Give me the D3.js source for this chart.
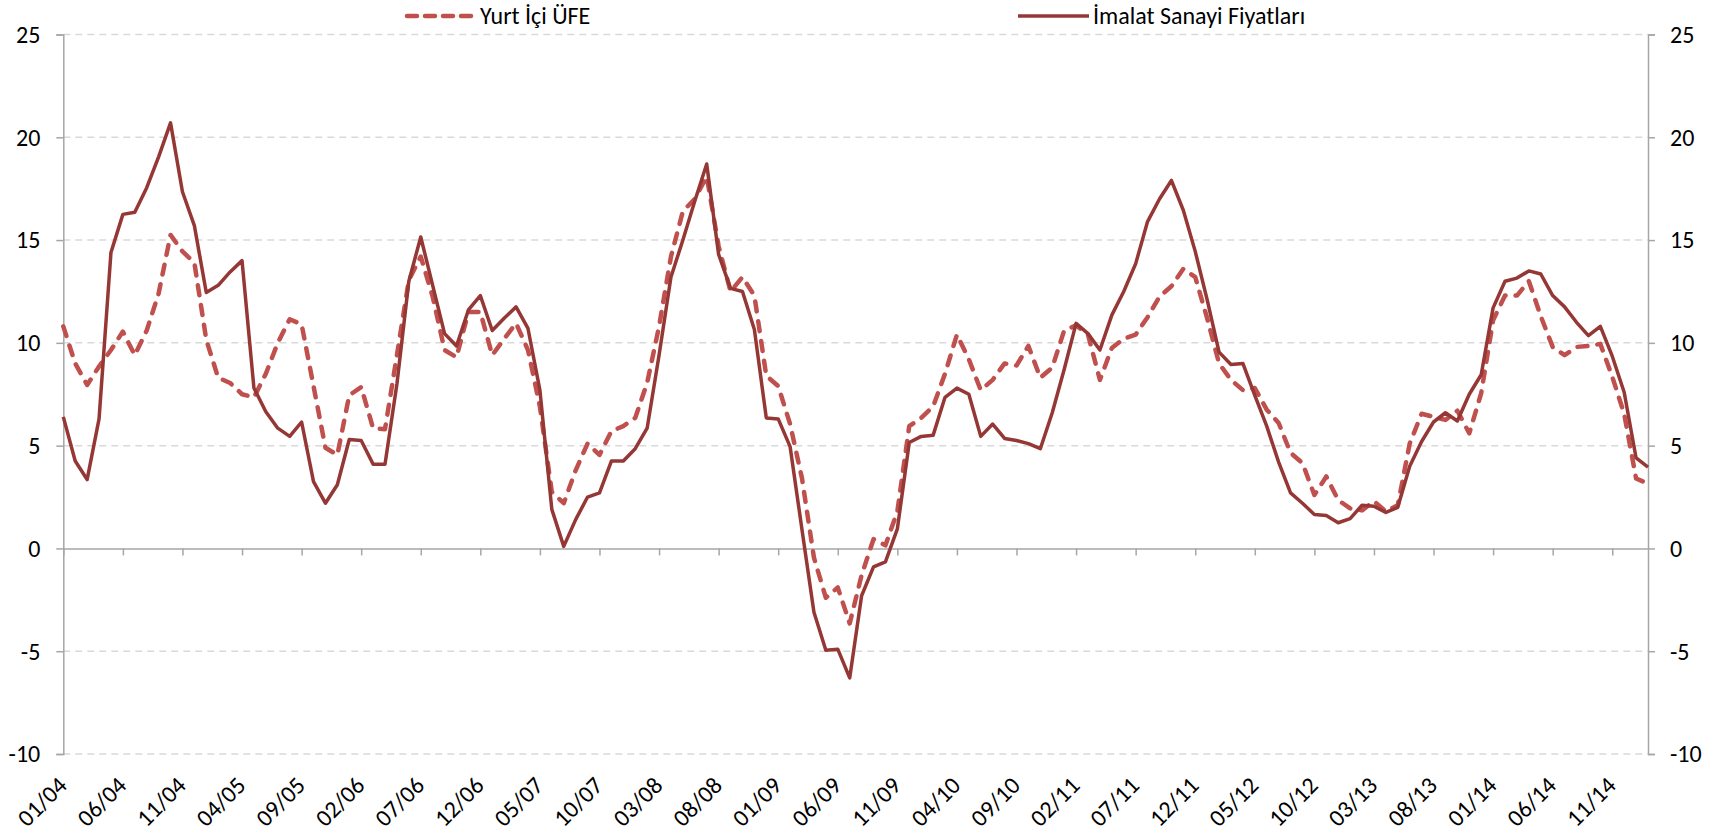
<!DOCTYPE html>
<html>
<head>
<meta charset="utf-8">
<script src="https://cdn.jsdelivr.net/npm/d3@7"></script>
<style>
  body { margin: 0; background: #fff; overflow: hidden; }
  svg { display: block; }
  text { font-family: Carlito, "Liberation Sans Narrow", "Open Sans", sans-serif; fill: #000; }
</style>
</head>
<body>
<div id="chart"></div>
<script>
// monthly series, 01/2004 .. 02/2015 (annual % change)
var ufe = [10.8, 9.0, 7.95, 8.85, 9.65, 10.55, 9.4, 10.6, 12.4, 15.25, 14.45, 13.9,
  10.15, 8.3, 8.05, 7.5, 7.35, 8.5, 10.0, 11.15, 10.9, 7.9, 4.9, 4.55,
  7.45, 7.85, 5.85, 5.8, 9.4, 13.05, 14.2, 12.25, 9.65, 9.3, 11.5, 11.5,
  9.4, 10.2, 10.95, 9.65, 6.9, 2.75, 2.2, 3.8, 5.1, 4.55, 5.7, 5.95,
  6.35, 8.05, 10.8, 14.2, 16.4, 17.0, 18.1, 14.7, 12.5, 13.2, 12.3, 8.4,
  7.9, 6.05, 3.4, -0.45, -2.4, -1.9, -3.65, -1.3, 0.45, 0.15, 1.8, 5.95,
  6.35, 6.9, 8.5, 10.4, 9.2, 7.7, 8.2, 9.0, 8.9, 9.85, 8.3, 8.8,
  10.6, 10.85, 10.4, 8.2, 9.75, 10.2, 10.4, 11.25, 12.25, 12.75, 13.6, 13.2,
  11.2, 9.0, 8.2, 7.7, 7.8, 6.75, 6.1, 4.65, 4.15, 2.6, 3.5, 2.35,
  1.95, 1.85, 2.3, 1.8, 2.1, 5.1, 6.55, 6.4, 6.25, 6.7, 5.6, 7.55,
  11.1, 12.3, 12.3, 13.0, 11.3, 9.8, 9.4, 9.8, 9.85, 9.95, 8.35, 6.55,
  3.4, 3.15];

var imalat = [6.4, 4.25, 3.35, 6.3, 14.4, 16.25, 16.35, 17.55, 19.05, 20.7, 17.35, 15.7,
  12.45, 12.8, 13.45, 14.0, 7.8, 6.65, 5.85, 5.45, 6.15, 3.25, 2.2, 3.1,
  5.3, 5.25, 4.1, 4.1, 8.0, 13.0, 15.15, 12.8, 10.45, 9.85, 11.6, 12.3,
  10.6, 11.2, 11.75, 10.7, 7.7, 1.9, 0.1, 1.4, 2.5, 2.7, 4.25, 4.25,
  4.85, 5.85, 9.4, 13.2, 15.0, 16.9, 18.7, 14.3, 12.65, 12.5, 10.65, 6.35,
  6.3, 4.95, 0.9, -3.1, -4.95, -4.9, -6.3, -2.3, -0.9, -0.65, 0.95, 5.15,
  5.45, 5.5, 7.35, 7.8, 7.5, 5.45, 6.05, 5.35, 5.25, 5.1, 4.85, 6.6,
  8.7, 10.95, 10.45, 9.65, 11.35, 12.5, 13.85, 15.9, 17.0, 17.9, 16.45, 14.45,
  12.1, 9.55, 8.95, 9.0, 7.45, 5.95, 4.2, 2.7, 2.2, 1.65, 1.6, 1.25,
  1.45, 2.1, 2.05, 1.75, 2.0, 4.0, 5.2, 6.15, 6.6, 6.2, 7.5, 8.45,
  11.7, 13.0, 13.15, 13.5, 13.35, 12.3, 11.75, 11.0, 10.35, 10.8, 9.35, 7.6,
  4.4, 3.95];

var tickLabels = ["01/04", "06/04", "11/04", "04/05", "09/05", "02/06", "07/06", "12/06", "05/07",
  "10/07", "03/08", "08/08", "01/09", "06/09", "11/09", "04/10", "09/10", "02/11", "07/11",
  "12/11", "05/12", "10/12", "03/13", "08/13", "01/14", "06/14", "11/14"];

var yTicks = [25, 20, 15, 10, 5, 0, -5, -10];

// category labels for each month
var fmt = d3.timeFormat("%m/%y");
var months = d3.timeMonth.range(new Date(2004, 0, 1), new Date(2015, 2, 1)).map(fmt);

var W = 1725, H = 834;
var margin = {top: 34.5, right: 77, bottom: 80, left: 63.3};
var width = W - margin.left - margin.right,
    height = H - margin.top - margin.bottom;
var fontSize = "24px";

var svg = d3.select("#chart").append("svg")
    .attr("width", W)
    .attr("height", H);

var g = svg.append("g")
    .attr("transform", "translate(" + margin.left + "," + margin.top + ")");

var x = d3.scalePoint().domain(months).range([0, width]).padding(0);
var y = d3.scaleLinear().domain([-10, 25]).range([height, 0]);

var axisColor = "#a6a6a6";

// gridlines
g.selectAll("line.grid")
  .data(yTicks.filter(function(d) { return d != 0; }))
  .enter().append("line")
    .attr("class", "grid")
    .attr("x1", 0).attr("x2", width)
    .attr("y1", function(d) { return y(d); })
    .attr("y2", function(d) { return y(d); })
    .attr("stroke", "#d9d9d9")
    .attr("stroke-width", 1.5)
    .attr("stroke-dasharray", "7,5");

// left / right axes
var yl = g.append("g").call(d3.axisLeft(y).tickValues(yTicks).tickSize(7).tickFormat(""));
var yr = g.append("g").attr("transform", "translate(" + width + ",0)")
    .call(d3.axisRight(y).tickValues(yTicks).tickSize(7).tickFormat(""));
[yl, yr].forEach(function(a) {
  a.select(".domain").attr("stroke", axisColor).attr("stroke-width", 1.5);
  a.selectAll(".tick line").attr("stroke", axisColor).attr("stroke-width", 1.5);
});

// y labels
g.selectAll("text.yl").data(yTicks).enter().append("text")
  .attr("x", -23).attr("y", function(d) { return y(d); })
  .attr("dy", "0.35em").attr("text-anchor", "end")
  .style("font-size", fontSize)
  .text(function(d) { return d; });
g.selectAll("text.yr").data(yTicks).enter().append("text")
  .attr("x", width + 22).attr("y", function(d) { return y(d); })
  .attr("dy", "0.35em").attr("text-anchor", "start")
  .style("font-size", fontSize)
  .text(function(d) { return d; });

// x axis at zero
var tickMonths = months.filter(function(m, i) { return i % 5 == 0; });
var xa = g.append("g").attr("transform", "translate(0," + y(0) + ")")
    .call(d3.axisBottom(x).tickValues(tickMonths).tickSize(7).tickSizeOuter(0).tickFormat(""));
xa.select(".domain").attr("stroke", axisColor).attr("stroke-width", 1.5);
xa.selectAll(".tick line").attr("stroke", axisColor).attr("stroke-width", 1.5);

// x labels at bottom, rotated
g.selectAll("text.xl").data(tickLabels).enter().append("text")
  .attr("text-anchor", "end")
  .style("font-size", fontSize)
  .attr("transform", function(d, i) {
    return "translate(" + (x(tickMonths[i]) + 5) + "," + (height + 33) + ") rotate(-45)";
  })
  .text(function(d) { return d; });

// lines
var line = function(vals) {
  return d3.line()
    .x(function(d, i) { return x(months[i]); })
    .y(function(d) { return y(d); })(vals);
};

g.append("path")
  .attr("d", line(ufe))
  .attr("fill", "none")
  .attr("stroke", "#C0504D")
  .attr("stroke-width", 4.5)
  .attr("stroke-linecap", "round")
  .attr("stroke-linejoin", "round")
  .attr("stroke-dasharray", "10,10");

g.append("path")
  .attr("d", line(imalat))
  .attr("fill", "none")
  .attr("stroke", "#953735")
  .attr("stroke-width", 3.5)
  .attr("stroke-linejoin", "round");

// legend
var legend = svg.append("g");
legend.append("line")
  .attr("x1", 407).attr("x2", 474).attr("y1", 16).attr("y2", 16)
  .attr("stroke", "#C0504D").attr("stroke-width", 4.5)
  .attr("stroke-linecap", "round").attr("stroke-dasharray", "10,8");
legend.append("text").attr("x", 480).attr("y", 16).attr("dy", "0.35em")
  .style("font-size", fontSize).text("Yurt İçi ÜFE");
legend.append("line")
  .attr("x1", 1018).attr("x2", 1089).attr("y1", 16).attr("y2", 16)
  .attr("stroke", "#953735").attr("stroke-width", 3.5);
legend.append("text").attr("x", 1093).attr("y", 16).attr("dy", "0.35em")
  .style("font-size", fontSize).text("İmalat Sanayi Fiyatları");
</script>
</body>
</html>
